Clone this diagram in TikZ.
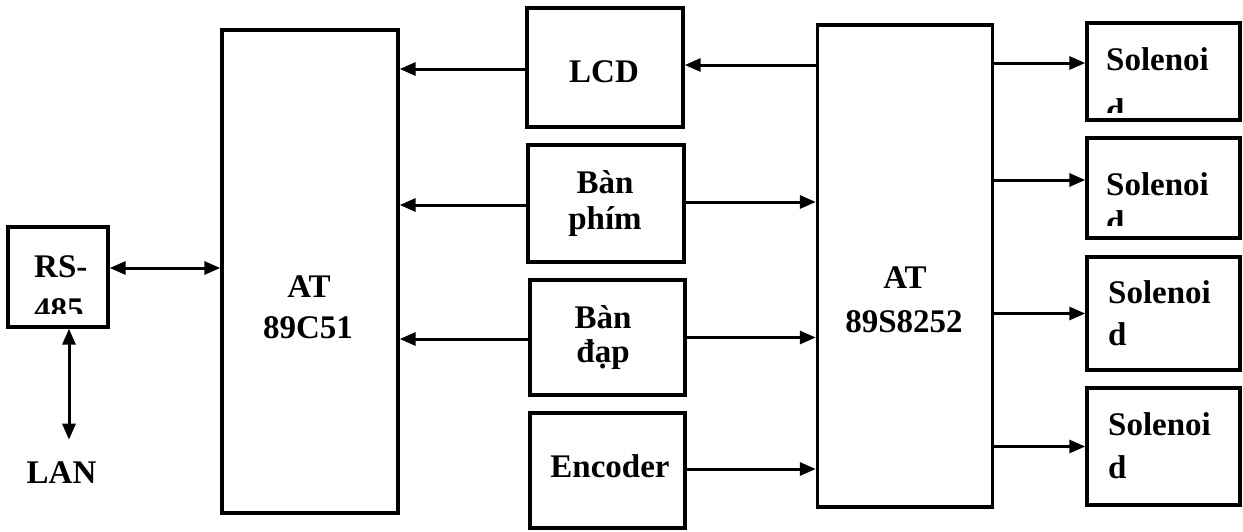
\documentclass[tikz,border=0pt]{standalone}
\usepackage{fontspec}
\setmainfont{Liberation Serif}
\usetikzlibrary{arrows.meta}
\tikzset{
  box/.style={draw, line width=3.4pt, inner sep=0pt, minimum width=#1},
  lbl/.style={font=\fontsize{33}{38}\selectfont\bfseries, inner sep=0pt},
  arr/.style={line width=3pt, -{Triangle[length=16pt,width=13pt]}},
  darr/.style={line width=3pt, {Triangle[length=16pt,width=13pt]}-{Triangle[length=16pt,width=13pt]}}
}
\begin{document}
\begin{tikzpicture}[x=1pt,y=-1pt]
\useasboundingbox[fill=white] (0,0) rectangle (1243,531);
% boxes
\node[box=100, minimum height=100] (rs) at (58,277) {};
\node[box=176, minimum height=483] (c51) at (310,271.5) {};
\node[box=156, minimum height=119] (lcd) at (605,67.5) {};
\node[box=156, minimum height=117] (phim) at (606,203.5) {};
\node[box=155, minimum height=115] (dap) at (607.5,337.5) {};
\node[box=155, minimum height=115] (enc) at (607.5,470.5) {};
\node[box=175, minimum height=482] (s8252) at (905,266) {};
\node[box=153, minimum height=97] (sol1) at (1163.5,71.5) {};
\node[box=153, minimum height=100] (sol2) at (1163.5,188) {};
\node[box=153, minimum height=113] (sol3) at (1163.5,313.5) {};
\node[box=153, minimum height=117] (sol4) at (1163.5,446.5) {};
% texts
\node[lbl, anchor=base west] (rs1) at (34,277) {RS-};
\begin{scope}
\clip (10,229) rectangle (106,313);
\node[lbl, anchor=base west] (rs2) at (34,320) {485};
\end{scope}
\node[lbl, anchor=base] (lan) at (61.5,483) {LAN};
\node[lbl, anchor=base] (c51a) at (309,297) {AT};
\node[lbl, anchor=base] (c51b) at (308,338) {89C51};
\node[lbl, anchor=base] (s1) at (905,288) {AT};
\node[lbl, anchor=base] (s2) at (904,332) {89S8252};
\node[lbl, anchor=base] (lcdt) at (604,82) {LCD};
\node[lbl, anchor=base] (ph1) at (605,193) {Bàn};
\node[lbl, anchor=base] (ph2) at (605,229) {phím};
\node[lbl, anchor=base] (dp1) at (603,328) {Bàn};
\node[lbl, anchor=base] (dp2) at (603,362) {đạp};
\node[lbl, anchor=base] (enct) at (610,477) {Encoder};
\node[lbl, anchor=base west] (so1a) at (1106,70) {Solenoi};
\begin{scope}
\clip (1090,25) rectangle (1238,112);
\node[lbl, anchor=base west] (so1b) at (1106,121) {d};
\end{scope}
\node[lbl, anchor=base west] (so2a) at (1106,195) {Solenoi};
\begin{scope}
\clip (1090,140) rectangle (1238,225);
\node[lbl, anchor=base west] (so2b) at (1106,233) {d};
\end{scope}
\node[lbl, anchor=base west] (so3a) at (1108,303) {Solenoi};
\node[lbl, anchor=base west] (so3b) at (1108,345) {d};
\node[lbl, anchor=base west] (so4a) at (1108,435) {Solenoi};
\node[lbl, anchor=base west] (so4b) at (1108,478) {d};
% connectors
\draw[darr] ([yshift=9]rs.east) -- ([yshift=9]rs.east -| c51.west);
\draw[darr] ([xshift=11]rs.south) -- ++(0,111);
\draw[arr] ([yshift=-1.5]lcd.west) -- ([yshift=-1.5]lcd.west -| c51.east);
\draw[arr] ([yshift=2.5]lcd.west -| s8252.west) -- ([yshift=2.5]lcd.east);
\draw[arr] ([yshift=-1.5]phim.west) -- ([yshift=-1.5]phim.west -| c51.east);
\draw[arr] ([yshift=1.5]phim.east) -- ([yshift=1.5]phim.east -| s8252.west);
\draw[arr] ([yshift=-1.5]dap.west) -- ([yshift=-1.5]dap.west -| c51.east);
\draw[arr] (dap.east) -- (dap.east -| s8252.west);
\draw[arr] ([yshift=1.5]enc.east) -- ([yshift=1.5]enc.east -| s8252.west);
\draw[arr] ([yshift=8.5]sol1.west -| s8252.east) -- ([yshift=8.5]sol1.west);
\draw[arr] ([yshift=8]sol2.west -| s8252.east) -- ([yshift=8]sol2.west);
\draw[arr] (sol3.west -| s8252.east) -- (sol3.west);
\draw[arr] (sol4.west -| s8252.east) -- (sol4.west);
\end{tikzpicture}
\end{document}
